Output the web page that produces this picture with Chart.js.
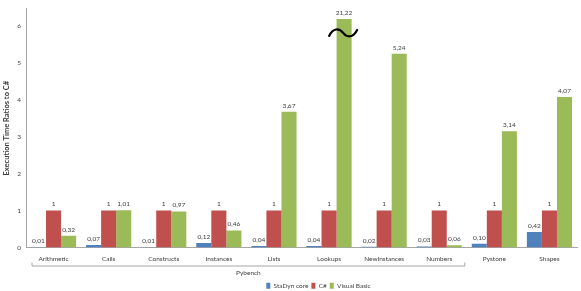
<!DOCTYPE html>
<html>
<head>
    <title>Execution Time Ratios to C#</title>
    <script src="https://cdn.jsdelivr.net/npm/chart.js"></script>
    <style>
        html, body {
            margin: 0;
            padding: 0;
            background: #ffffff;
        }
        .chart-container {
            width: 581px;
            height: 291px;
        }
    </style>
</head>
<body>
    <div class="chart-container">
        <canvas id="ratioChart"></canvas>
    </div>

    <script>
        const benchmarks = ['Arithmetic', 'Calls', 'Constructs', 'Instances', 'Lists', 'Lookups', 'NewInstances', 'Numbers', 'Pystone', 'Shapes'];
        const stadynValues = [0.01, 0.07, 0.01, 0.12, 0.04, 0.04, 0.02, 0.03, 0.10, 0.42];
        const csharpValues = [1, 1, 1, 1, 1, 1, 1, 1, 1, 1];
        const vbValues = [0.32, 1.01, 0.97, 0.46, 3.67, 21.22, 5.24, 0.06, 3.14, 4.07];
        const yTicks = [0, 1, 2, 3, 4, 5, 6];
        const yMax = 6.45;
        // bars taller than this are cut off and marked with a break symbol
        const breakAt = 6.18;
        // first 8 benchmarks belong to Pybench
        const groupLabel = 'Pybench';
        const groupLast = 7;

        const fontFamily = 'Lato, "Open Sans", Arial, sans-serif';
        const textColor = '#404040';

        function formatValue(v) {
            return Number.isInteger(v) ? String(v) : v.toFixed(2).replace('.', ',');
        }

        const valueLabels = {
            id: 'valueLabels',
            afterDatasetsDraw(chart) {
                const ctx = chart.ctx;
                ctx.save();
                ctx.font = '6.5px ' + fontFamily;
                ctx.fillStyle = textColor;
                ctx.textAlign = 'center';
                ctx.textBaseline = 'bottom';
                chart.data.datasets.forEach((ds, i) => {
                    chart.getDatasetMeta(i).data.forEach((bar, j) => {
                        const v = ds.values[j];
                        ctx.fillText(formatValue(v), bar.x, bar.y - 3);
                        if (v > breakAt) {
                            const cx = bar.x, top = bar.y;
                            ctx.save();
                            ctx.strokeStyle = '#000000';
                            ctx.lineWidth = 2.2;
                            ctx.lineCap = 'round';
                            ctx.beginPath();
                            ctx.moveTo(cx - 15, top + 17);
                            ctx.bezierCurveTo(cx - 11, top + 9, cx - 5, top + 9, cx - 1, top + 14);
                            ctx.bezierCurveTo(cx + 3, top + 19, cx + 9, top + 19, cx + 13, top + 11);
                            ctx.stroke();
                            ctx.restore();
                        }
                    });
                });
                ctx.restore();
            }
        };

        const groupBracket = {
            id: 'groupBracket',
            afterDraw(chart) {
                const x = chart.scales.x;
                const ctx = chart.ctx;
                const step = x.getPixelForValue(1) - x.getPixelForValue(0);
                const left = x.getPixelForValue(0) - step / 2 + 6;
                const right = x.getPixelForValue(groupLast) + step / 2 - 2;
                const y = x.top + 18.5;
                ctx.save();
                ctx.strokeStyle = '#a6a6a6';
                ctx.lineWidth = 1;
                ctx.beginPath();
                ctx.moveTo(left, y - 3.5);
                ctx.lineTo(left, y);
                ctx.lineTo(right, y);
                ctx.lineTo(right, y - 3.5);
                ctx.stroke();
                ctx.font = '6.5px ' + fontFamily;
                ctx.fillStyle = textColor;
                ctx.textAlign = 'center';
                ctx.textBaseline = 'middle';
                ctx.fillText(groupLabel, (left + right) / 2, x.top + 25.7);
                ctx.restore();
            }
        };

        // move the legend down and to the right, as in the original
        const legendShift = {
            id: 'legendShift',
            afterLayout(chart) {
                chart.legend.left += 17;
                chart.legend.right += 17;
                chart.legend.top += 8;
                chart.legend.bottom += 8;
            }
        };

        function makeDataset(label, values, color) {
            return {
                label: label,
                values: values,
                data: values.map(v => Math.min(v, breakAt)),
                backgroundColor: color,
                borderWidth: 0,
                categoryPercentage: 0.82,
                barPercentage: 1
            };
        }

        new Chart(document.getElementById('ratioChart').getContext('2d'), {
            type: 'bar',
            data: {
                labels: benchmarks,
                datasets: [
                    makeDataset('StaDyn core', stadynValues, '#4f81bd'),
                    makeDataset('C#', csharpValues, '#c0504d'),
                    makeDataset('Visual Basic', vbValues, '#9bbb59')
                ]
            },
            options: {
                responsive: true,
                maintainAspectRatio: false,
                animation: false,
                layout: { padding: { top: 5, right: 4, left: 0, bottom: 0 } },
                plugins: {
                    legend: {
                        position: 'bottom',
                        fullSize: false,
                        labels: {
                            boxWidth: 4,
                            boxHeight: 6,
                            padding: 3,
                            color: textColor,
                            font: { family: fontFamily, size: 6.5 }
                        }
                    },
                    tooltip: { enabled: false }
                },
                scales: {
                    x: {
                        grid: { display: false, drawTicks: false },
                        border: { display: true, color: '#a6a6a6' },
                        ticks: {
                            padding: 8,
                            color: textColor,
                            maxRotation: 0,
                            autoSkip: false,
                            font: { family: fontFamily, size: 6.5 }
                        },
                        afterFit(scale) { scale.height = 24; }
                    },
                    y: {
                        min: 0,
                        max: yMax,
                        grid: { display: false, drawTicks: false },
                        border: { display: true, color: '#a6a6a6' },
                        afterBuildTicks(scale) {
                            scale.ticks = yTicks.map(v => ({ value: v }));
                        },
                        ticks: {
                            padding: 5,
                            color: textColor,
                            font: { family: fontFamily, size: 6.5 }
                        },
                        title: {
                            display: true,
                            text: 'Execution Time Ratios to C#',
                            color: textColor,
                            padding: 2,
                            font: { family: fontFamily, size: 7.5, weight: 'bold' }
                        },
                        afterFit(scale) { scale.width = 26; }
                    }
                }
            },
            plugins: [valueLabels, groupBracket, legendShift]
        });
    </script>
</body>
</html>
